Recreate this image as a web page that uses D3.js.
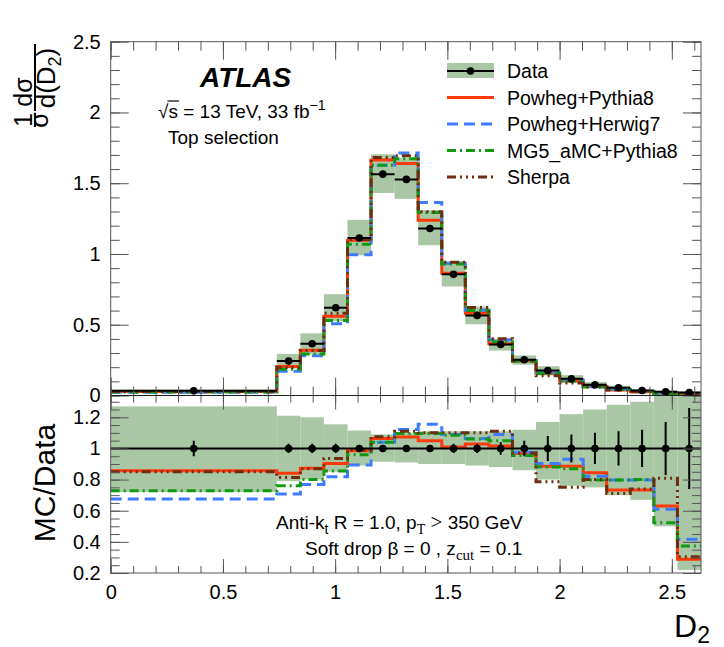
<!DOCTYPE html>
<html lang="en">
<head>
<meta charset="UTF-8">
<title>D2 top selection</title>
<script src="https://d3js.org/d3.v7.min.js"></script>
<style>
  body { margin: 0; background: #fff; }
  text { font-family: "Liberation Sans", Arial, sans-serif; fill: #000; }
</style>
</head>
<body>
<svg width="724" height="647"></svg>
<script>
    // bin edges in D2
    const edges = [0, 0.74, 0.845, 0.95, 1.055, 1.16, 1.265, 1.37, 1.475, 1.58, 1.685,
                   1.79, 1.895, 2.0, 2.105, 2.21, 2.315, 2.42, 2.525, 2.63];
    // unfolded data, 1/sigma dsigma/dD2
    const dataVals = [0.033, 0.243, 0.366, 0.62, 1.113, 1.564, 1.527, 1.18, 0.856, 0.566,
                      0.361, 0.253, 0.177, 0.118, 0.076, 0.054, 0.035, 0.026, 0.021];
    // relative stat error (error bars) and total uncertainty band (up / down)
    const statErr = [0.05, 0.03, 0.03, 0.03, 0.02, 0.02, 0.02, 0.02, 0.03, 0.03,
                     0.04, 0.05, 0.08, 0.09, 0.1, 0.11, 0.12, 0.17, 0.26];
    const uncUp   = [0.27, 0.21, 0.2, 0.155, 0.115, 0.09, 0.1, 0.11, 0.11, 0.11,
                     0.11, 0.12, 0.17, 0.22, 0.25, 0.28, 0.3, 0.34, 0.34];
    const uncDown = [0.28, 0.21, 0.2, 0.15, 0.11, 0.085, 0.09, 0.1, 0.1, 0.11,
                     0.12, 0.14, 0.2, 0.24, 0.25, 0.3, 0.33, 0.5, 0.78];
    // MC / Data
    const ratioPowPy8 = [0.856, 0.84, 0.872, 0.904, 0.985, 1.064, 1.074, 1.049, 1.01, 1.028,
                         1.015, 0.968, 0.886, 0.886, 0.844, 0.733, 0.733, 0.63, 0.288];
    const ratioPowHw7 = [0.675, 0.707, 0.769, 0.818, 0.893, 1.04, 1.122, 1.156, 1.09, 1.064,
                         1.09, 0.976, 0.904, 0.93, 0.822, 0.797, 0.797, 0.609, 0.416];
    const ratioMG5    = [0.728, 0.76, 0.8, 0.855, 0.96, 1.04, 1.096, 1.096, 1.085, 1.06,
                         1.05, 0.955, 0.88, 0.87, 0.797, 0.797, 0.8, 0.523, 0.373];
    const ratioSherpa = [0.85, 0.814, 0.87, 0.936, 0.99, 1.075, 1.11, 1.1, 1.1, 1.1,
                         1.11, 0.97, 0.786, 0.75, 0.8, 0.711, 0.74, 0.808, 0.305];
    // tick labels
    const xTicks = [0, 0.5, 1, 1.5, 2, 2.5];
    const yTopTicks = [0, 0.5, 1, 1.5, 2, 2.5];
    const yRatTicks = [0.2, 0.4, 0.6, 0.8, 1, 1.2];

    const xLeft = 110.7, xRight = 701, topY = 41.7, midY = 395.5, botY = 573;
    const bandColor = '#a9c7a5';
    const frameColor = '#555';

    const svg = d3.select('svg');
    const x = d3.scaleLinear().domain([0, 2.63]).range([xLeft, xRight]);
    const yTop = d3.scaleLinear().domain([0, 2.5]).range([midY, topY]);
    const yRat = d3.scaleLinear().domain([0.2, 1.34]).range([botY, midY]);

    const models = [
        {name: 'Powheg+Pythia8', ratio: ratioPowPy8, color: '#ff3a0a', dash: null},
        {name: 'Powheg+Herwig7', ratio: ratioPowHw7, color: '#3f7bff', dash: '11,6'},
        {name: 'MG5_aMC+Pythia8', ratio: ratioMG5, color: '#0f9a12', dash: '9,4,2,4'},
        {name: 'Sherpa', ratio: ratioSherpa, color: '#6e2d0c', dash: '9,4,2,4,2,4,2,4'}
    ];
    const bins = dataVals.map((v, i) => ({
        lo: edges[i], hi: edges[i + 1], mid: (edges[i] + edges[i + 1]) / 2,
        v: v, stat: statErr[i], up: uncUp[i], down: uncDown[i]
    }));

    const defs = svg.append('defs');
    defs.append('clipPath').attr('id', 'clipTop').append('rect')
        .attr('x', xLeft).attr('y', topY).attr('width', xRight - xLeft).attr('height', midY - topY);
    defs.append('clipPath').attr('id', 'clipRat').append('rect')
        .attr('x', xLeft).attr('y', midY).attr('width', xRight - xLeft).attr('height', botY - midY);

    function stepPoints(vals) {
        const pts = vals.map((v, i) => [edges[i], v]);
        pts.push([edges[edges.length - 1], vals[vals.length - 1]]);
        return pts;
    }

    // ---------- top panel ----------
    const topG = svg.append('g').attr('clip-path', 'url(#clipTop)');
    topG.selectAll('rect.band').data(bins).enter().append('rect')
        .attr('x', d => x(d.lo)).attr('width', d => x(d.hi) - x(d.lo))
        .attr('y', d => yTop(d.v * (1 + d.up)))
        .attr('height', d => yTop(d.v * (1 - d.down)) - yTop(d.v * (1 + d.up)))
        .attr('fill', bandColor);

    const lineTop = d3.line().x(d => x(d[0])).y(d => yTop(d[1])).curve(d3.curveStepAfter);
    models.forEach(m => {
        topG.append('path')
            .attr('d', lineTop(stepPoints(m.ratio.map((r, i) => r * dataVals[i]))))
            .attr('fill', 'none').attr('stroke', m.color).attr('stroke-width', 3)
            .attr('stroke-dasharray', m.dash);
    });
    topG.selectAll('line.xerr').data(bins).enter().append('line')
        .attr('x1', d => x(d.lo)).attr('x2', d => x(d.hi))
        .attr('y1', d => yTop(d.v)).attr('y2', d => yTop(d.v))
        .attr('stroke', '#000').attr('stroke-width', 2);
    topG.selectAll('circle').data(bins).enter().append('circle')
        .attr('cx', d => x(d.mid)).attr('cy', d => yTop(d.v)).attr('r', 3.8).attr('fill', '#000');

    // ---------- ratio panel ----------
    const ratG = svg.append('g').attr('clip-path', 'url(#clipRat)');
    ratG.selectAll('rect.band').data(bins).enter().append('rect')
        .attr('x', d => x(d.lo)).attr('width', d => x(d.hi) - x(d.lo))
        .attr('y', d => yRat(1 + d.up))
        .attr('height', d => yRat(1 - d.down) - yRat(1 + d.up))
        .attr('fill', bandColor);
    const lineRat = d3.line().x(d => x(d[0])).y(d => yRat(d[1])).curve(d3.curveStepAfter);
    models.forEach(m => {
        ratG.append('path')
            .attr('d', lineRat(stepPoints(m.ratio)))
            .attr('fill', 'none').attr('stroke', m.color).attr('stroke-width', 3)
            .attr('stroke-dasharray', m.dash);
    });
    ratG.append('line')
        .attr('x1', x(0)).attr('x2', x(2.63)).attr('y1', yRat(1)).attr('y2', yRat(1))
        .attr('stroke', '#000').attr('stroke-width', 2);
    ratG.selectAll('line.yerr').data(bins).enter().append('line')
        .attr('x1', d => x(d.mid)).attr('x2', d => x(d.mid))
        .attr('y1', d => yRat(1 + d.stat)).attr('y2', d => yRat(1 - d.stat))
        .attr('stroke', '#000').attr('stroke-width', 2);
    ratG.selectAll('circle').data(bins).enter().append('circle')
        .attr('cx', d => x(d.mid)).attr('cy', yRat(1)).attr('r', 3.8).attr('fill', '#000');

    // ---------- frames and axes ----------
    function styleAxis(g, labels) {
        g.select('.domain').remove();
        g.selectAll('line').attr('stroke', frameColor);
        g.selectAll('text').attr('font-size', 20)
            .attr('font-family', '"Liberation Sans", Arial, sans-serif').attr('fill', '#000');
        if (!labels) g.selectAll('text').remove();
    }
    function addAxis(axis, tx, ty, labels) {
        svg.append('g').attr('transform', `translate(${tx},${ty})`).call(axis).call(g => styleAxis(g, labels));
    }
    const fmt = d3.format('');
    const xMinor = d3.range(0, 2.631, 0.1);
    // top panel
    addAxis(d3.axisLeft(yTop).tickValues(yTopTicks).tickSize(-18).tickPadding(10).tickFormat(fmt), xLeft, 0, true);
    addAxis(d3.axisLeft(yTop).tickValues(d3.range(0, 2.51, 0.1)).tickSize(-9), xLeft, 0, false);
    addAxis(d3.axisRight(yTop).tickValues(yTopTicks).tickSize(-18), xRight, 0, false);
    addAxis(d3.axisRight(yTop).tickValues(d3.range(0, 2.51, 0.1)).tickSize(-9), xRight, 0, false);
    addAxis(d3.axisBottom(x).tickValues(xTicks).tickSize(-18), 0, midY, false);
    addAxis(d3.axisBottom(x).tickValues(xMinor).tickSize(-9), 0, midY, false);
    addAxis(d3.axisTop(x).tickValues(xTicks).tickSize(-18), 0, topY, false);
    addAxis(d3.axisTop(x).tickValues(xMinor).tickSize(-9), 0, topY, false);
    // ratio panel
    const yRatMinor = d3.range(0.2, 1.34, 0.05);
    addAxis(d3.axisLeft(yRat).tickValues(yRatTicks).tickSize(-18).tickPadding(10).tickFormat(fmt), xLeft, 0, true);
    addAxis(d3.axisLeft(yRat).tickValues(yRatMinor).tickSize(-9), xLeft, 0, false);
    addAxis(d3.axisRight(yRat).tickValues(yRatTicks).tickSize(-18), xRight, 0, false);
    addAxis(d3.axisRight(yRat).tickValues(yRatMinor).tickSize(-9), xRight, 0, false);
    addAxis(d3.axisBottom(x).tickValues(xTicks).tickSize(-14).tickPadding(12).tickFormat(fmt), 0, botY, true);
    addAxis(d3.axisBottom(x).tickValues(xMinor).tickSize(-7), 0, botY, false);
    addAxis(d3.axisTop(x).tickValues(xTicks).tickSize(-14), 0, midY, false);
    addAxis(d3.axisTop(x).tickValues(xMinor).tickSize(-7), 0, midY, false);

    svg.append('rect').attr('x', xLeft).attr('y', topY).attr('width', xRight - xLeft)
        .attr('height', botY - topY).attr('fill', 'none').attr('stroke', frameColor);
    svg.append('line').attr('x1', xLeft).attr('x2', xRight).attr('y1', midY).attr('y2', midY)
        .attr('stroke', '#222').attr('stroke-width', 1.2);

    // ---------- axis titles ----------
    const yt = svg.append('g').attr('transform', 'translate(35,126) rotate(-90)');
    yt.append('text').attr('x', 6).attr('y', -3).attr('text-anchor', 'middle').attr('font-size', 25).text('1');
    yt.append('text').attr('x', 6).attr('y', 13).attr('text-anchor', 'middle').attr('font-size', 25).text('σ');
    yt.append('line').attr('x1', -1).attr('x2', 13).attr('y1', 0).attr('y2', 0).attr('stroke', '#000').attr('stroke-width', 2);
    yt.append('text').attr('x', 34).attr('y', -3).attr('text-anchor', 'middle').attr('font-size', 25).text('dσ');
    const dd = yt.append('text').attr('x', 48).attr('y', 20).attr('text-anchor', 'middle').attr('font-size', 26);
    dd.append('tspan').text('d(D');
    dd.append('tspan').attr('dy', 6).attr('font-size', 18).text('2');
    dd.append('tspan').attr('dy', -6).text(')');
    yt.append('line').attr('x1', 15).attr('x2', 82).attr('y1', 0).attr('y2', 0).attr('stroke', '#000').attr('stroke-width', 2);

    svg.append('text').attr('transform', 'translate(55,483) rotate(-90)')
        .attr('text-anchor', 'middle').attr('font-size', 30).text('MC/Data');

    const xt = svg.append('text').attr('x', 710).attr('y', 637).attr('text-anchor', 'end').attr('font-size', 32);
    xt.append('tspan').text('D');
    xt.append('tspan').attr('dy', 6).attr('font-size', 23).text('2');

    // ---------- labels ----------
    svg.append('text').attr('x', 200).attr('y', 87).attr('font-size', 28)
        .attr('font-weight', 'bold').attr('font-style', 'italic').text('ATLAS');
    const rs = svg.append('text').attr('x', 158).attr('y', 118).attr('font-size', 19);
    rs.append('tspan').text('√');
    rs.append('tspan').text('s = 13 TeV, 33 fb');
    rs.append('tspan').attr('dy', -8).attr('font-size', 14).text('−1');
    const rsNode = rs.node();
    const rootW = rsNode.getSubStringLength(0, 1);
    const sW = rsNode.getSubStringLength(1, 1);
    svg.append('line').attr('x1', 158 + rootW - 1).attr('x2', 158 + rootW + sW + 1)
        .attr('y1', 101).attr('y2', 101).attr('stroke', '#000').attr('stroke-width', 1.2);
    svg.append('text').attr('x', 168).attr('y', 144).attr('font-size', 19).text('Top selection');

    const serif = '"Liberation Serif", "DejaVu Serif", serif';
    const a1 = svg.append('text').attr('x', 276).attr('y', 529).attr('font-size', 19);
    a1.append('tspan').text('Anti-k');
    a1.append('tspan').attr('dy', 5).attr('font-size', 14).text('t');
    a1.append('tspan').attr('dy', -5).text(' R = 1.0, p');
    a1.append('tspan').attr('dy', 5).attr('font-size', 14).attr('font-family', serif).text('T');
    a1.append('tspan').attr('dy', -5).text(' ');
    a1.append('tspan').attr('font-family', serif).attr('font-size', 21).text('>');
    a1.append('tspan').text(' 350 GeV');
    const a2 = svg.append('text').attr('x', 305).attr('y', 555).attr('font-size', 19);
    a2.append('tspan').text('Soft drop β = 0 , z');
    a2.append('tspan').attr('dy', 5).attr('font-size', 15).attr('font-family', serif).text('cut');
    a2.append('tspan').attr('dy', -5).text('  = 0.1');

    // ---------- legend ----------
    const lx0 = 447, lx1 = 494, ltx = 507, ly0 = 71, lstep = 26.5;
    const leg = svg.append('g');
    leg.append('rect').attr('x', lx0).attr('y', ly0 - 8).attr('width', lx1 - lx0).attr('height', 15).attr('fill', bandColor);
    leg.append('line').attr('x1', lx0).attr('x2', lx1).attr('y1', ly0).attr('y2', ly0).attr('stroke', '#000').attr('stroke-width', 2);
    leg.append('circle').attr('cx', (lx0 + lx1) / 2).attr('cy', ly0).attr('r', 3.8).attr('fill', '#000');
    leg.append('text').attr('x', ltx).attr('y', ly0 + 7).attr('font-size', 19.5).text('Data');
    models.forEach((m, i) => {
        const yy = ly0 + lstep * (i + 1);
        leg.append('line').attr('x1', lx0).attr('x2', lx1).attr('y1', yy).attr('y2', yy)
            .attr('stroke', m.color).attr('stroke-width', 3).attr('stroke-dasharray', m.dash);
        leg.append('text').attr('x', ltx).attr('y', yy + 7).attr('font-size', 19.5).text(m.name);
    });
</script>
</body>
</html>
